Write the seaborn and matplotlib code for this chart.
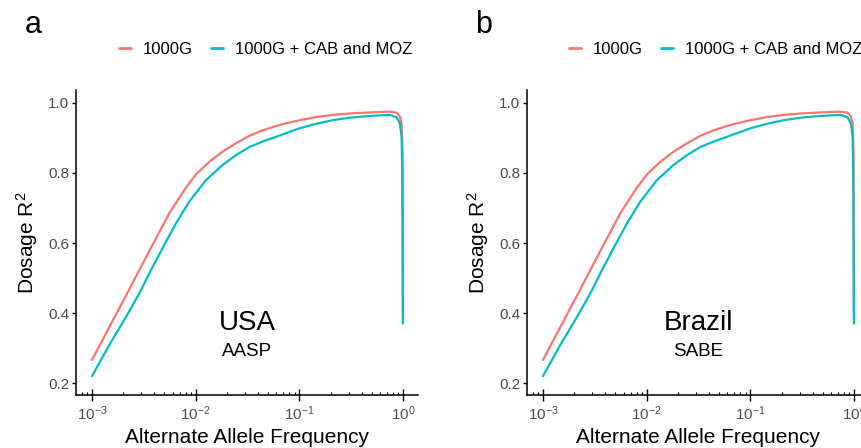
import matplotlib
matplotlib.use("Agg")
import matplotlib.pyplot as plt
import matplotlib.ticker as mticker
import numpy as np
import pandas as pd
import seaborn as sns

# 参考面板名称与颜色
ref_1000g = "1000G"
ref_cabmoz = "1000G + CAB and MOZ"
palette = {ref_1000g: "#F8766D", ref_cabmoz: "#00BFC4"}

# 1000G 曲线 (等位基因频率, Dosage R2)
freq_1000g = [0.00100, 0.00147, 0.00213, 0.00308, 0.00414, 0.00557, 0.00805,
              0.01007, 0.01352, 0.0182, 0.0245, 0.0329, 0.0443, 0.0594, 0.0700,
              0.1014, 0.147, 0.212, 0.308, 0.480, 0.748, 0.867, 0.933, 0.970,
              0.990, 0.995, 0.999]
r2_1000g = [0.266, 0.360, 0.450, 0.541, 0.613, 0.685, 0.758,
            0.796, 0.832, 0.861, 0.885, 0.906, 0.922, 0.934, 0.940,
            0.951, 0.960, 0.966, 0.970, 0.973, 0.975, 0.972, 0.961, 0.942,
            0.86, 0.60, 0.40]

# 1000G + CAB and MOZ 曲线
freq_cabmoz = [0.00100, 0.00147, 0.00213, 0.00286, 0.00385, 0.00518, 0.00646,
               0.00867, 0.0126, 0.0182, 0.0245, 0.0329, 0.0443, 0.0594, 0.0700,
               0.1014, 0.147, 0.212, 0.308, 0.480, 0.748, 0.867, 0.933, 0.970,
               0.985, 0.999]
r2_cabmoz = [0.220, 0.309, 0.389, 0.456, 0.532, 0.604, 0.656,
             0.718, 0.780, 0.823, 0.851, 0.874, 0.890, 0.903, 0.911,
             0.928, 0.941, 0.951, 0.958, 0.963, 0.966, 0.959, 0.942, 0.904,
             0.80, 0.37]

panels = ["a", "b"]
countries = ["USA", "Brazil"]
cohorts = ["AASP", "SABE"]

x_ticks = [0.001, 0.01, 0.1, 1.0]
y_ticks = [0.2, 0.4, 0.6, 0.8, 1.0]

df = pd.concat([
    pd.DataFrame({"freq": freq_1000g, "r2": r2_1000g, "ref": ref_1000g}),
    pd.DataFrame({"freq": freq_cabmoz, "r2": r2_cabmoz, "ref": ref_cabmoz}),
])

sns.set_theme(style="white")
plt.rcParams["font.family"] = ["Liberation Sans", "DejaVu Sans"]
plt.rcParams["mathtext.fontset"] = "custom"
plt.rcParams["mathtext.rm"] = "Liberation Sans"
plt.rcParams["mathtext.it"] = "Liberation Sans:italic"
plt.rcParams["text.color"] = "black"

fig = plt.figure(figsize=(8.62, 4.48), dpi=100)

lefts = [76 / 862, 527 / 862]
for i, left in enumerate(lefts):
    ax = fig.add_axes([left, 1 - 395 / 448, 342 / 862, 305 / 448])
    sns.lineplot(data=df, x="freq", y="r2", hue="ref", palette=palette,
                 estimator=None, sort=False, linewidth=1.6, ax=ax, legend=False)
    ax.set_xscale("log")
    ax.set_xlim(10 ** -3.154, 10 ** 0.145)
    ax.set_ylim(0.166, 1.037)
    ax.set_xticks(x_ticks)
    ax.xaxis.set_major_formatter(mticker.LogFormatterMathtext())
    ax.xaxis.set_minor_locator(mticker.LogLocator(base=10, subs=np.arange(2, 10)))
    ax.xaxis.set_minor_formatter(mticker.NullFormatter())
    ax.set_yticks(y_ticks)
    ax.set_yticklabels([f"{v:.1f}" for v in y_ticks])

    for s in ["top", "right"]:
        ax.spines[s].set_visible(False)
    for s in ["left", "bottom"]:
        ax.spines[s].set_color("black")
        ax.spines[s].set_linewidth(1.1)

    ax.tick_params(axis="x", which="major", direction="inout", length=9, width=1,
                   color="black", labelsize=11, labelcolor="#4D4D4D", pad=2, bottom=True)
    ax.tick_params(axis="x", which="minor", direction="in", length=2.5, width=0.8,
                   color="black", bottom=True)
    ax.tick_params(axis="y", which="major", direction="out", length=3, width=1,
                   color="black", labelsize=11, labelcolor="#4D4D4D", pad=2, left=True)

    ax.set_xlabel("Alternate Allele Frequency", fontsize=15, color="black", labelpad=4)
    ax.set_ylabel("Dosage R$^2$", fontsize=15, color="black", labelpad=6)

    ax.text(10 ** -1.5, 0.372, countries[i], fontsize=20, ha="center", va="center",
            color="black")
    ax.text(10 ** -1.5, 0.29, cohorts[i], fontsize=13.5, ha="center", va="center",
            color="black")

    # 面板标签
    fig.text((33 + 451 * i) / 862, 1 - 25 / 448, panels[i], fontsize=22,
             ha="center", va="center", color="black")

    # 图例
    handles = [plt.Line2D([], [], color=palette[k], linewidth=2) for k in palette]
    leg = fig.legend(handles, list(palette.keys()), loc="center",
                     bbox_to_anchor=((266 + 450 * i) / 862, 1 - 49 / 448),
                     ncol=2, frameon=False, fontsize=12, handlelength=0.72,
                     handletextpad=0.72, columnspacing=1.1, borderpad=0)
    for t in leg.get_texts():
        t.set_color("black")

plt.savefig("out.png", dpi=100)
